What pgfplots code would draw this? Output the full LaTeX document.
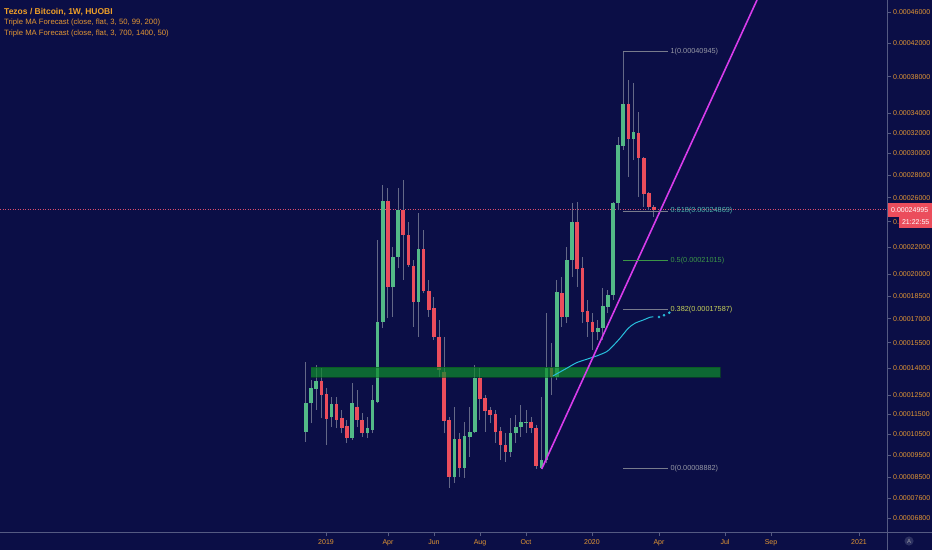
\documentclass[border=0pt]{standalone}
\usepackage{pgfplots}
\pgfplotsset{compat=1.18}
\usepackage{pgfplotstable}
\usepackage{fontspec}
\setmainfont{Liberation Sans}

\definecolor{bgc}{RGB}{11,14,70}
\definecolor{upc}{RGB}{83,185,135}
\definecolor{dnc}{RGB}{235,77,92}
\definecolor{wickc}{RGB}{100,104,135}
\definecolor{bandc}{RGB}{15,140,45}
\definecolor{magc}{RGB}{215,60,235}
\definecolor{cyanc}{RGB}{40,190,220}
\definecolor{tickc}{RGB}{226,150,52}
\definecolor{titlec}{RGB}{240,160,40}
\definecolor{pricec}{RGB}{220,80,110}
\definecolor{sepc}{RGB}{85,90,130}
\definecolor{fibgray}{RGB}{120,123,140}
\definecolor{fibtext}{RGB}{150,152,165}
\definecolor{fibteal}{RGB}{77,182,172}
\definecolor{fibgreen}{RGB}{60,150,70}
\definecolor{fibyellow}{RGB}{200,210,90}

% weekly candles: d = days from 2019-01-01, prices in BTC
\pgfplotstableread{
d o h l c
-29 0.00010631 0.00014370 0.00010146 0.00012073
-22 0.00012073 0.00013331 0.00011048 0.00012875
-15 0.00012837 0.00014181 0.00011723 0.00013293
6 0.00011350 0.00012423 0.00010878 0.00012021
34 0.00010339 0.00013150 0.00010227 0.00012073
55 0.00010553 0.00011381 0.00010310 0.00010799
62 0.00010714 0.00013057 0.00010553 0.00012246
69 0.00012157 0.00022553 0.00012073 0.00016803
76 0.00016803 0.00027108 0.00016386 0.00025745
90 0.00019090 0.00022040 0.00017125 0.00021288
97 0.00021288 0.00026816 0.00020435 0.00024962
125 0.00018110 0.00024691 0.00015864 0.00021842
174 0.00008510 0.00011896 0.00008260 0.00010276
188 0.00008937 0.00011127 0.00008479 0.00010422
195 0.00010388 0.00011896 0.00009440 0.00010602
202 0.00010602 0.00014181 0.00010568 0.00013427
251 0.00009672 0.00011314 0.00009440 0.00010583
258 0.00010553 0.00011468 0.00010070 0.00010878
265 0.00010878 0.00011985 0.00010388 0.00011127
272 0.00011078 0.00011723 0.00010568 0.00011127
293 0.00008937 0.00012423 0.00008882 0.00009287
300 0.00009287 0.00017345 0.00009137 0.00013991
314 0.00013516 0.00019598 0.00013331 0.00018787
328 0.00017086 0.00022040 0.00016702 0.00021041
335 0.00021041 0.00025526 0.00019833 0.00024003
370 0.00016136 0.00016911 0.00015660 0.00016424
377 0.00016424 0.00019020 0.00015660 0.00017825
384 0.00017778 0.00018902 0.00017365 0.00018563
391 0.00018563 0.00025661 0.00018223 0.00025526
398 0.00025526 0.00031626 0.00024962 0.00030813
405 0.00030715 0.00040945 0.00030327 0.00034963
419 0.00031398 0.00037299 0.00029379 0.00032124
}\upcandles

\pgfplotstableread{
d o h l c
-8 0.00013293 0.00013991 0.00011299 0.00012514
-1 0.00012552 0.00012875 0.00009989 0.00011248
13 0.00012021 0.00012423 0.00010799 0.00011212
20 0.00011330 0.00011723 0.00010553 0.00010799
27 0.00010913 0.00011212 0.00010070 0.00010339
41 0.00011896 0.00012782 0.00010878 0.00011212
48 0.00011212 0.00011554 0.00010388 0.00010553
83 0.00025745 0.00026816 0.00017021 0.00019090
104 0.00024962 0.00027549 0.00019598 0.00022945
111 0.00022945 0.00024003 0.00020552 0.00020676
118 0.00020603 0.00021041 0.00016487 0.00018110
132 0.00021842 0.00023337 0.00018678 0.00018854
139 0.00018854 0.00019598 0.00017125 0.00017559
146 0.00017672 0.00018447 0.00015660 0.00015864
153 0.00015864 0.00016911 0.00013516 0.00013893
160 0.00013797 0.00015864 0.00010553 0.00011177
167 0.00011212 0.00011365 0.00008044 0.00008510
181 0.00010261 0.00010568 0.00008523 0.00008937
209 0.00013460 0.00014008 0.00011212 0.00012284
216 0.00012337 0.00012514 0.00010631 0.00011687
223 0.00011723 0.00011896 0.00011048 0.00011468
230 0.00011503 0.00011723 0.00010084 0.00010602
237 0.00010665 0.00010878 0.00009287 0.00009989
244 0.00009989 0.00010568 0.00009210 0.00009644
279 0.00011127 0.00011381 0.00010553 0.00010829
286 0.00010829 0.00010963 0.00008900 0.00009028
307 0.00013991 0.00015479 0.00012514 0.00013516
321 0.00018678 0.00019833 0.00016487 0.00017086
342 0.00024003 0.00025661 0.00019132 0.00020384
349 0.00020435 0.00021288 0.00016702 0.00017449
356 0.00017514 0.00018223 0.00015864 0.00016803
363 0.00016803 0.00017345 0.00015057 0.00016173
412 0.00034963 0.00037635 0.00027847 0.00031398
426 0.00032024 0.00034177 0.00026088 0.00029540
433 0.00029540 0.00029692 0.00025240 0.00026321
440 0.00026382 0.00026519 0.00024962 0.00025240
447 0.00025240 0.00025383 0.00024411 0.00024995
}\downcandles

\newcommand\candles[2]{%
  \pgfplotstablegetrowsof{#1}%
  \pgfmathtruncatemacro\lastrow{\pgfplotsretval-1}%
  \pgfplotsforeachungrouped \ci in {0,...,\lastrow}{%
    \pgfplotstablegetelem{\ci}{d}\of{#1}\let\cd\pgfplotsretval
    \pgfplotstablegetelem{\ci}{o}\of{#1}\let\co\pgfplotsretval
    \pgfplotstablegetelem{\ci}{h}\of{#1}\let\ch\pgfplotsretval
    \pgfplotstablegetelem{\ci}{l}\of{#1}\let\cl\pgfplotsretval
    \pgfplotstablegetelem{\ci}{c}\of{#1}\let\cc\pgfplotsretval
    \edef\next{\noexpand\addplot[wick] coordinates {(\cd,\cl) (\cd,\ch)};%
      \noexpand\addplot[body=#2] coordinates {(\cd,\co) (\cd,\cc)};}%
    \next}}

\newcommand\tickfont{\fontsize{7}{8}\selectfont}
\newcommand\fibfont{\fontsize{7.3}{8}\selectfont}

\begin{document}
\begin{tikzpicture}
\fill[bgc] (0pt,0pt) rectangle (932pt,550pt);
\begin{axis}[
  at={(0pt,18pt)}, anchor=south west,
  scale only axis, width=887pt, height=532pt,
  xmin=-447.5, xmax=765.7,
  ymin=0.0000625, ymax=0.00047622,
  y coord trafo/.code={\begingroup\pgfkeys{/pgf/fpu=true,/pgf/fpu/output format=fixed}\pgfmathparse{ln(#1+0.0001)}\pgfmathsmuggle\pgfmathresult\endgroup},
  y coord inv trafo/.code={\begingroup\pgfkeys{/pgf/fpu=true,/pgf/fpu/output format=fixed}\pgfmathparse{exp(#1)-0.0001}\pgfmathsmuggle\pgfmathresult\endgroup},
  axis line style={draw=none},
  clip mode=individual,
  tick align=outside,
  major tick length=4pt,
  tick style={draw=sepc, line width=0.6pt},
  xtick pos=bottom, ytick pos=right,
  yticklabel pos=right,
  xtick={-1.6,83.2,146.1,209.0,271.9,362.2,453.8,544.1,607.0,727.4},
  xticklabels={2019,Apr,Jun,Aug,Oct,2020,Apr,Jul,Sep,2021},
  ytick={0.000068,0.000076,0.000085,0.000095,0.000105,0.000115,0.000125,0.00014,0.000155,0.00017,0.000185,0.0002,0.00022,0.00024,0.00026,0.00028,0.0003,0.00032,0.00034,0.00038,0.00042,0.00046},
  yticklabels={0.00006800,0.00007600,0.00008500,0.00009500,0.00010500,0.00011500,0.00012500,0.00014000,0.00015500,0.00017000,0.00018500,0.00020000,0.00022000,0.,0.00026000,0.00028000,0.00030000,0.00032000,0.00034000,0.00038000,0.00042000,0.00046000},
  x tick label style={font=\tickfont, text=tickc, inner sep=0pt, yshift=-3pt},
  y tick label style={font=\tickfont, text=tickc, inner sep=0pt, xshift=2pt},
  wick/.style={draw=wickc, line width=1pt},
  body/.style={draw=#1, line width=3.6pt, line cap=butt},
]
% current price line
\addplot[pricec, line width=0.7pt, dash pattern=on 1pt off 1.5pt] coordinates {(-447.5,0.00024995) (765.7,0.00024995)};

\candles{\upcandles}{upc}
\candles{\downcandles}{dnc}

% support zone
\addplot[fill=bandc, fill opacity=0.72, draw=bandc!60!black, draw opacity=0.6, line width=0.6pt] coordinates {(-22.2,0.00013483) (537.2,0.00013483) (537.2,0.00014048) (-22.2,0.00014048)};

% Triple MA forecast
\addplot[cyanc, line width=1pt, smooth] coordinates {(308.8,0.00013556) (327.6,0.00013991) (341.3,0.00014313) (354.9,0.00014509) (368.6,0.00014704) (382.3,0.00014957) (389.1,0.00015220) (400.5,0.00015765) (411.8,0.00016386) (421.0,0.00016702) (432.4,0.00016911) (441.5,0.00017086) (446.0,0.00017110)};
\addplot[cyanc, only marks, mark=*, mark size=1.1pt] coordinates {(453.8,0.00017105) (460.6,0.00017215) (467.9,0.00017384)};

% trend line
\addplot[magc, line width=1.6pt] coordinates {(293.4,0.00008882) (587.9,0.00047622)};

% Fibonacci retracement
\addplot[fibgray, line width=1pt] coordinates {(405.0,0.00040945) (466.6,0.00040945)};
\addplot[fibgray, line width=1pt] coordinates {(405.0,0.00024869) (466.6,0.00024869)};
\addplot[fibgreen, line width=1pt] coordinates {(405.0,0.00021015) (466.6,0.00021015)};
\addplot[fibgray, line width=1pt] coordinates {(405.0,0.00017587) (466.6,0.00017587)};
\addplot[fibgray, line width=1pt] coordinates {(405.0,0.00008882) (466.6,0.00008882)};
\node[anchor=west, inner sep=0pt, text=fibtext, font=\fibfont] at (axis cs:469.5,0.00040945) {1(0.00040945)};
\node[anchor=west, inner sep=0pt, text=fibteal, font=\fibfont] at (axis cs:469.5,0.00024869) {0.618(0.00024869)};
\node[anchor=west, inner sep=0pt, text=fibgreen, font=\fibfont] at (axis cs:469.5,0.00021015) {0.5(0.00021015)};
\node[anchor=west, inner sep=0pt, text=fibyellow, font=\fibfont] at (axis cs:469.5,0.00017587) {0.382(0.00017587)};
\node[anchor=west, inner sep=0pt, text=fibtext, font=\fibfont] at (axis cs:469.5,0.00008882) {0(0.00008882)};

% price labels on the scale
\node[anchor=west, fill=dnc, text=white, font=\tickfont, inner sep=0pt, minimum width=45pt, minimum height=14pt] at (axis cs:765.7,0.00024995) {0.00024995};
\node[anchor=north west, fill=dnc, text=white, font=\tickfont, inner sep=0pt, minimum width=33pt, minimum height=11pt, xshift=12pt, yshift=-7pt] at (axis cs:765.7,0.00024995) {21:22:55};
\end{axis}
\draw[sepc, line width=0.8pt] (887pt,0pt) -- (887pt,550pt);
\draw[sepc, line width=0.8pt] (0pt,18pt) -- (932pt,18pt);
\node[anchor=west, inner sep=0pt, text=titlec, font=\fontsize{8.5}{9}\selectfont\bfseries] at (4pt,538.3pt) {Tezos / Bitcoin, 1W, HUOBI};
\node[anchor=west, inner sep=0pt, text=tickc, font=\fontsize{7.7}{9}\selectfont] at (4pt,527.3pt) {Triple MA Forecast (close, flat, 3, 50, 99, 200)};
\node[anchor=west, inner sep=0pt, text=tickc, font=\fontsize{7.7}{9}\selectfont] at (4pt,516.7pt) {Triple MA Forecast (close, flat, 3, 700, 1400, 50)};
\node[circle, fill=sepc!45!bgc, text=fibtext, inner sep=1.2pt, font=\fontsize{6}{7}\selectfont] at (909pt,9pt) {A};
\pgfresetboundingbox
\path[use as bounding box] (0pt,0pt) rectangle (932pt,550pt);
\end{tikzpicture}
\end{document}
